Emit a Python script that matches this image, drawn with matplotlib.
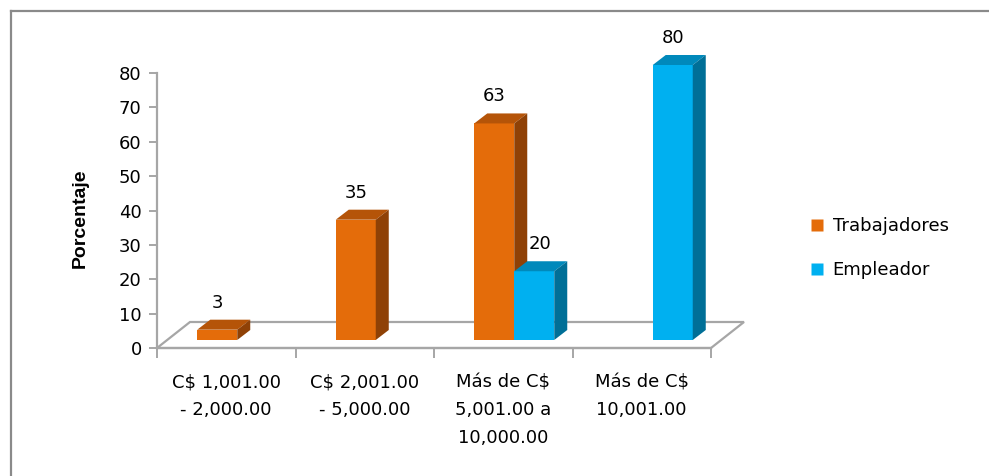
import matplotlib
matplotlib.use("Agg")
import matplotlib.pyplot as plt
from matplotlib.patches import Polygon, Rectangle
from matplotlib.lines import Line2D

categories = ["C$ 1,001.00\n- 2,000.00", "C$ 2,001.00\n- 5,000.00",
              "Más de C$\n5,001.00 a\n10,000.00", "Más de C$\n10,001.00"]
series_names = ["Trabajadores", "Empleador"]
trabajadores = [3, 35, 63, 0]
empleador = [0, 0, 20, 80]
yticks = [0, 10, 20, 30, 40, 50, 60, 70, 80]

FONT = ["DejaVu Sans"]
plt.rcParams["font.family"] = FONT
FS = 13

W, H, DPI = 989, 476, 100
fig = plt.figure(figsize=(W / DPI, H / DPI), dpi=DPI)
fig.patch.set_facecolor("white")

# axes frame: front plane of the 3D chart
ax_l, ax_r, ax_b, ax_t = 157, 711, 348, 73
ax = fig.add_axes([ax_l / W, 1 - ax_b / H, (ax_r - ax_l) / W, (ax_b - ax_t) / H])
ax.set_xlim(-0.5, 3.5)
ax.set_ylim(0, 80)
for s in ax.spines.values():
    s.set_visible(False)
ax.patch.set_visible(False)

pxx = 4.0 / (ax_r - ax_l)     # data units per pixel (x)
pxy = 80.0 / (ax_b - ax_t)    # data units per pixel (y)

grid_c = "#A6A6A6"
# floor (depth)
fdx, fdy = 33 * pxx, 26 * pxy
floor = [(-0.5, 0), (3.5, 0), (3.5 + fdx, fdy), (-0.5 + fdx, fdy)]
ax.add_patch(Polygon(floor, closed=True, facecolor="white", edgecolor=grid_c,
                     lw=1.6, clip_on=False, zorder=1))
# vertical axis
ax.plot([-0.5, -0.5], [0, 80], color=grid_c, lw=1.6, clip_on=False, zorder=2)

# bars
bw = 40 * pxx
offx, offy = 11 * pxx, 8 * pxy
ddx, ddy = 13 * pxx, 10 * pxy
colors = {
    "Trabajadores": ("#E46C0A", "#B55408", "#8F4106"),
    "Empleador": ("#00B0F0", "#0089BB", "#006F97"),
}
label_dx = {"Trabajadores": 0.0, "Empleador": 6 * pxx}

for si, (name, vals) in enumerate(zip(series_names, [trabajadores, empleador])):
    front, top, side = colors[name]
    for i, v in enumerate(vals):
        if v == 0:
            continue
        x0 = i + offx - bw + si * bw
        x1 = x0 + bw
        b = offy
        t = b + v
        ax.add_patch(Rectangle((x0, b), bw, v, facecolor=front, edgecolor="none",
                               zorder=3 + si, clip_on=False))
        ax.add_patch(Polygon([(x0, t), (x1, t), (x1 + ddx, t + ddy), (x0 + ddx, t + ddy)],
                             closed=True, facecolor=top, edgecolor="none",
                             zorder=3 + si, clip_on=False))
        ax.add_patch(Polygon([(x1, b), (x1 + ddx, b + ddy), (x1 + ddx, t + ddy), (x1, t)],
                             closed=True, facecolor=side, edgecolor="none",
                             zorder=3 + si, clip_on=False))
        extra = label_dx[name] if (trabajadores[i] and empleador[i]) else 0.0
        ax.text((x0 + x1) / 2 + extra, t + ddy + 8 * pxy, str(v), ha="center",
                va="bottom", fontsize=FS, color="black", zorder=10, clip_on=False)

# ticks
ax.set_yticks(yticks)
ax.set_yticklabels([str(t) for t in yticks], fontsize=FS)
ax.tick_params(axis="y", length=6, width=1.4, color=grid_c, pad=5, direction="out")
ax.set_xticks([-0.5, 0.5, 1.5, 2.5, 3.5])
ax.set_xticklabels([])
ax.tick_params(axis="x", which="major", length=7, width=1.4, color=grid_c, direction="out")
ax.set_xticks(range(len(categories)), minor=True)
ax.set_xticklabels(categories, minor=True, fontsize=FS, linespacing=1.72, va="top")
ax.tick_params(axis="x", which="minor", length=0, pad=18)
# front floor edge
ax.plot([-0.5, 3.5], [0, 0], color=grid_c, lw=1.6, clip_on=False, zorder=2)

ax.set_ylabel("Porcentaje", fontsize=14, fontweight="bold", va="center",
              family=["Liberation Sans"])
ax.yaxis.set_label_coords((80 - ax_l) / (ax_r - ax_l), (ax_b - 218) / (ax_b - ax_t))

# legend
handles = [Line2D([], [], marker="s", linestyle="none", markersize=9,
                  markerfacecolor=colors[n][0], markeredgecolor="none") for n in series_names]
fig.legend(handles, series_names, loc="center left",
           bbox_to_anchor=(802 / W, 1 - 248 / H), frameon=False, fontsize=FS,
           handlelength=0.7, handletextpad=0.5, labelspacing=1.45, borderpad=0)

# outer chart frame (top and left visible)
fc = "#8A8A8A"
fig.add_artist(Line2D([10.5 / W, 1], [1 - 10.5 / H, 1 - 10.5 / H], color=fc, lw=1.6,
                      transform=fig.transFigure))
fig.add_artist(Line2D([10.5 / W, 10.5 / W], [0, 1 - 10.5 / H], color=fc, lw=1.6,
                      transform=fig.transFigure))

fig.savefig("out.png", dpi=DPI, facecolor="white")
